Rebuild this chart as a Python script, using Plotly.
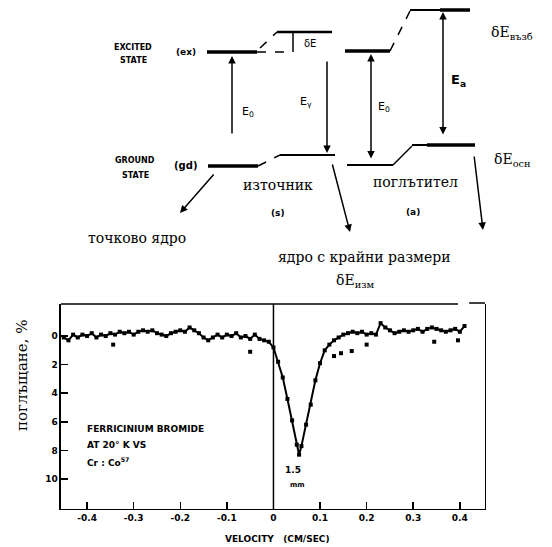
import plotly.graph_objects as go

# ---------------- spectrum data (velocity cm/s, absorption %) ----------------
velocity = [-0.45, -0.44, -0.43, -0.42, -0.41, -0.40, -0.39, -0.38, -0.37, -0.36,
            -0.35, -0.34, -0.33, -0.32, -0.31, -0.30, -0.29, -0.28, -0.27, -0.26,
            -0.25, -0.24, -0.23, -0.22, -0.21, -0.20, -0.19, -0.18, -0.17, -0.16,
            -0.15, -0.14, -0.13, -0.12, -0.11, -0.10, -0.09, -0.08, -0.07, -0.06,
            -0.05, -0.04, -0.03, -0.02, -0.01, 0.00, 0.01, 0.02, 0.03, 0.04,
            0.05, 0.055, 0.06, 0.07, 0.08, 0.09, 0.10, 0.11, 0.12, 0.13,
            0.14, 0.15, 0.16, 0.17, 0.18, 0.19, 0.20, 0.21, 0.22, 0.23,
            0.24, 0.25, 0.26, 0.27, 0.28, 0.29, 0.30, 0.31, 0.32, 0.33,
            0.34, 0.35, 0.36, 0.37, 0.38, 0.39, 0.40, 0.41]
absorption = [0.1, 0.3, -0.1, 0.1, -0.1, 0.0, -0.2, 0.1, -0.1, 0.0,
              -0.2, -0.1, -0.3, -0.2, -0.3, -0.1, -0.3, -0.4, -0.3, -0.4,
              -0.2, -0.1, 0.0, -0.2, -0.3, -0.4, -0.3, -0.6, -0.4, -0.2,
              0.1, 0.3, 0.1, -0.1, 0.1, -0.1, 0.0, -0.2, 0.1, 0.0,
              0.2, -0.1, 0.2, 0.3, 0.4, 0.8, 1.8, 2.9, 4.4, 5.9,
              7.6, 8.3, 7.7, 6.2, 4.8, 3.1, 1.9, 1.0, 0.6, 0.3,
              0.1, -0.1, -0.2, -0.3, -0.2, -0.3, -0.1, -0.2, -0.1, -0.9,
              -0.6, -0.4, -0.2, -0.3, -0.4, -0.3, -0.4, -0.5, -0.3, -0.5,
              -0.6, -0.5, -0.4, -0.3, -0.4, -0.5, -0.3, -0.7]
stray_velocity = [-0.344, -0.05, 0.13, 0.145, 0.168, 0.20, 0.345, 0.396]
stray_absorption = [0.6, 1.1, 1.4, 1.2, 1.05, 0.6, 0.4, 0.3]

x_ticks = [-0.4, -0.3, -0.2, -0.1, 0, 0.1, 0.2, 0.3, 0.4]
x_tick_labels = ["-0.4", "-0.3", "-0.2", "-0.1", "0", "0.1", "0.2", "0.3", "0.4"]
y_ticks = [0, 2, 4, 6, 8, 10]
y_tick_labels = ["0", "2", "4", "6", "8", "10"]

# ---------------- energy-level diagram data (diagram units) ----------------
# (x0, x1, y, line width)
levels = [
    (207, 257, 52, 3.5), (277, 332, 32, 2.5),
    (208, 258, 166, 3.5), (280, 335, 155, 2),
    (345, 390, 51, 3.5), (410, 440, 10, 2), (440, 470, 10, 3.5),
    (347, 393, 165, 2), (412, 427, 145, 2), (427, 475, 145, 3.5),
]
# (x0, y0, x1, y1, dash)
connectors = [
    (257, 52, 293, 52, "dash"), (260, 48, 277, 32, "dash"),
    (258, 166, 280, 155, "dash"), (390, 51, 410, 11, "dash"),
    (393, 165, 412, 146, "solid"), (293, 32, 293, 52, "solid"),
]
# (x_tail, y_tail, x_head, y_head, arrowside)
arrows = [
    (232, 135, 232, 56, "end"), (327, 60, 327, 153, "end"),
    (371, 160, 371, 54, "end+start"), (443, 136, 443, 12, "end+start"),
    (215, 173, 180, 213, "end"), (332, 163, 350, 232, "end"),
    (474, 155, 483, 230, "end"),
]
SERIF = "DejaVu Serif"
SANS = "DejaVu Sans"
diagram_labels = [
    ("EXCITED", 133, 47, 8, SANS, True),
    ("STATE", 133, 60, 8, SANS, True),
    ("(ex)", 186, 52, 9, SANS, True),
    ("GROUND", 135, 160, 8, SANS, True),
    ("STATE", 135, 175, 8, SANS, True),
    ("(gd)", 185, 165, 10, SANS, True),
    ("δE", 310, 43, 10, SANS, False),
    ("E<sub>0</sub>", 248, 112, 11, SANS, False),
    ("E<sub>γ</sub>", 306, 102, 11, SANS, False),
    ("E<sub>0</sub>", 384, 107, 11, SANS, False),
    ("E<sub>a</sub>", 458, 80, 13, SANS, True),
    ("δE<sub>възб</sub>", 512, 33, 14, SERIF, False),
    ("δE<sub>осн</sub>", 512, 160, 14, SERIF, False),
    ("източник", 278, 185, 14, SERIF, False),
    ("(s)", 278, 213, 9, SANS, True),
    ("поглътител", 415, 182, 14, SERIF, False),
    ("(a)", 413, 212, 9, SANS, True),
    ("точково ядро", 137, 238, 14, SERIF, False),
    ("ядро с крайни размери", 364, 257, 14, SERIF, False),
    ("δE<sub>изм</sub>", 355, 281, 14, SERIF, False),
]
plot_labels = [
    ("FERRICINIUM BROMIDE", 85, 429),
    ("AT 20° K VS", 85, 445),
    ("Cr : Co<sup>57</sup>", 85, 462),
]

fig = go.Figure()

# spectrum
fig.add_trace(go.Scatter(x=velocity, y=absorption, mode="lines+markers",
                         line=dict(color="black", width=2),
                         marker=dict(color="black", size=4, symbol="square"),
                         xaxis="x", yaxis="y", showlegend=False))
fig.add_trace(go.Scatter(x=stray_velocity, y=stray_absorption, mode="markers",
                         marker=dict(color="black", size=4, symbol="square"),
                         xaxis="x", yaxis="y", showlegend=False))

# diagram levels
for x0, x1, yv, w in levels:
    fig.add_trace(go.Scatter(x=[x0, x1], y=[yv, yv], mode="lines",
                             line=dict(color="black", width=w),
                             xaxis="x2", yaxis="y2", showlegend=False))
for x0, y0, x1, y1, d in connectors:
    fig.add_trace(go.Scatter(x=[x0, x1], y=[y0, y1], mode="lines",
                             line=dict(color="black", width=1.5, dash=d),
                             xaxis="x2", yaxis="y2", showlegend=False))

annotations = []
for xt, yt, xh, yh, side in arrows:
    annotations.append(dict(x=xh, y=yh, ax=xt, ay=yt, xref="x2", yref="y2",
                            axref="x2", ayref="y2", showarrow=True, text="",
                            arrowhead=2, arrowsize=1, arrowwidth=1.5,
                            arrowside=side, arrowcolor="black"))
for txt, xv, yv, sz, fam, bold in diagram_labels:
    t = f"<b>{txt}</b>" if bold else txt
    annotations.append(dict(x=xv, y=yv, xref="x2", yref="y2", text=t,
                            showarrow=False, font=dict(size=sz, family=fam, color="black")))
for txt, xv, yv in plot_labels:
    annotations.append(dict(x=xv, y=yv, xref="x2", yref="y2", text=f"<b>{txt}</b>",
                            xanchor="left", showarrow=False,
                            font=dict(size=9, family=SANS, color="black")))
annotations.append(dict(x=283, y=470, xref="x2", yref="y2", text="<b>1.5</b>", xanchor="left",
                        showarrow=False, font=dict(size=9, family=SANS, color="black")))
annotations.append(dict(x=288, y=485, xref="x2", yref="y2", text="<b>mm</b>", xanchor="left",
                        showarrow=False, font=dict(size=7, family=SANS, color="black")))
annotations.append(dict(x=22, y=375, xref="x2", yref="y2", text="поглъщане, %", textangle=-90,
                        showarrow=False, font=dict(size=15, family=SERIF, color="black")))
annotations.append(dict(x=277, y=539, xref="x2", yref="y2", text="<b>VELOCITY   (CM/SEC)</b>",
                        showarrow=False, font=dict(size=9, family=SANS, color="black")))

shapes = [
    dict(type="line", xref="x", yref="y domain", x0=0, x1=0, y0=0, y1=1,
         line=dict(color="black", width=1.5)),
    dict(type="line", xref="x", yref="y domain", x0=-0.456, x1=0.396, y0=1, y1=1,
         line=dict(color="black", width=1.5)),
    dict(type="line", xref="x", yref="y domain", x0=0.42, x1=0.454, y0=1.005, y1=1.005,
         line=dict(color="black", width=1.5)),
]

tick_font = dict(size=9, family=SANS, color="black", weight="bold")

fig.update_layout(
    width=552, height=547,
    margin=dict(l=0, r=0, t=0, b=0, autoexpand=False),
    paper_bgcolor="white", plot_bgcolor="rgba(0,0,0,0)",
    showlegend=False,
    xaxis=dict(domain=[0.1105, 0.8786], range=[-0.456, 0.454], automargin=False,
               tickmode="array", tickvals=x_ticks, ticktext=x_tick_labels,
               ticks="inside", ticklen=7, tickwidth=1.5, tickcolor="black",
               showline=True, linecolor="black", linewidth=1.5, mirror=False,
               showgrid=False, zeroline=False, tickfont=tick_font),
    yaxis=dict(domain=[0.0695, 0.4442], range=[12.1, -2.24], automargin=False,
               tickmode="array", tickvals=y_ticks, ticktext=y_tick_labels,
               ticks="inside", ticklen=7, tickwidth=1.5, tickcolor="black",
               showline=True, linecolor="black", linewidth=1.5, mirror=True,
               showgrid=False, zeroline=False, tickfont=tick_font),
    xaxis2=dict(domain=[0, 1], range=[0, 552], visible=False, anchor="y2", automargin=False),
    yaxis2=dict(domain=[0, 1], range=[547, 0], visible=False, anchor="x2", automargin=False),
    annotations=annotations,
    shapes=shapes,
)

fig.write_html("out.html",
               config={"displayModeBar": False, "staticPlot": True},
               post_script="document.body.style.margin='0';document.body.style.overflow='hidden';")
